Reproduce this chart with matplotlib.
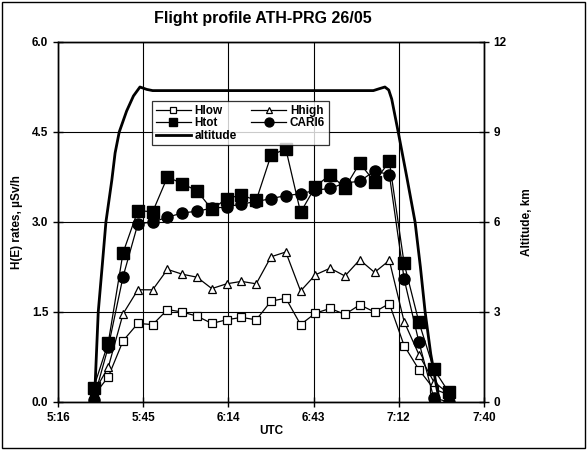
import matplotlib.pyplot as plt
from matplotlib.patches import Rectangle

plt.rcParams['font.family'] = ['Liberation Sans', 'DejaVu Sans']
plt.rcParams['font.weight'] = 'bold'

# measurement times (UTC)
times = ['5:28', '5:33', '5:38', '5:43', '5:48', '5:53', '5:58', '6:03', '6:08',
         '6:13', '6:18', '6:23', '6:28', '6:33', '6:38', '6:43', '6:48', '6:53',
         '6:58', '7:03', '7:08', '7:13', '7:18', '7:23', '7:28']

# H(E) rates, uSv/h
h_low = [0.10, 0.42, 1.02, 1.31, 1.29, 1.54, 1.50, 1.43, 1.31, 1.37, 1.41, 1.37, 1.68,
         1.73, 1.29, 1.48, 1.56, 1.46, 1.62, 1.50, 1.64, 0.94, 0.54, 0.22, 0.12]
h_high = [0.15, 0.58, 1.47, 1.87, 1.87, 2.21, 2.13, 2.08, 1.89, 1.97, 2.01, 1.97, 2.42,
          2.50, 1.85, 2.12, 2.23, 2.10, 2.37, 2.16, 2.36, 1.34, 0.79, 0.34, 0.14]
h_tot = [0.23, 0.99, 2.49, 3.19, 3.17, 3.75, 3.64, 3.52, 3.21, 3.39, 3.45, 3.36, 4.11,
         4.22, 3.16, 3.59, 3.79, 3.57, 3.98, 3.67, 4.01, 2.31, 1.33, 0.55, 0.17]
cari6 = [0.03, 0.92, 2.09, 2.97, 3.00, 3.08, 3.15, 3.18, 3.23, 3.25, 3.30, 3.34, 3.39,
         3.44, 3.47, 3.53, 3.56, 3.65, 3.68, 3.85, 3.79, 2.05, 1.00, 0.07, 0.00]

# flight altitude profile (minutes after midnight, km)
alt_time = [328.3, 329.6, 331.0, 332.2, 334.2, 335.3, 336.7, 339.2, 341.5, 343.7,
            346.0, 348.0, 422.6, 424.5, 426.5, 427.8, 428.8, 431.0, 433.9, 436.7,
            438.5, 440.1, 442.0, 443.8, 445.0]
alt_km = [0.0, 3.0, 4.6, 6.0, 7.4, 8.3, 9.0, 9.7, 10.2, 10.5,
          10.42, 10.38, 10.38, 10.44, 10.5, 10.4, 10.1, 9.0, 7.5, 6.0,
          4.5, 3.0, 1.6, 0.6, 0.0]

x_ticks = [316, 344.8, 373.6, 402.4, 431.2, 460]
x_labels = ['5:16', '5:45', '6:14', '6:43', '7:12', '7:40']


def to_min(s):
    h, m = s.split(':')
    return int(h) * 60 + int(m)


t = [to_min(s) for s in times]

fig = plt.figure(figsize=(5.87, 4.5), dpi=100)
fig.subplots_adjust(left=58 / 587, right=484 / 587, bottom=48 / 450, top=408 / 450)
ax1 = fig.add_subplot(111)
ax2 = ax1.twinx()

lw = 0.9
l_low, = ax1.plot(t, h_low, '-s', color='black', lw=lw, ms=6, mfc='white', mec='black', mew=0.9)
l_high, = ax1.plot(t, h_high, '-^', color='black', lw=lw, ms=6, mfc='white', mec='black', mew=0.9)
l_tot, = ax1.plot(t, h_tot, '-s', color='black', lw=lw, ms=8, mfc='black')
l_cari, = ax1.plot(t, cari6, '-o', color='black', lw=lw, ms=8, mfc='black')
l_alt, = ax2.plot(alt_time, alt_km, '-', color='black', lw=2)

ax1.set_xlim(316, 460)
ax1.set_ylim(0, 6)
ax2.set_ylim(0, 12)
ax1.set_xticks(x_ticks)
ax1.set_xticklabels(x_labels)
ax1.set_yticks([0, 1.5, 3.0, 4.5, 6.0])
ax1.set_yticklabels(['0.0', '1.5', '3.0', '4.5', '6.0'])
ax2.set_yticks([0, 3, 6, 9, 12])

ax1.grid(True, color='black', lw=0.8)
for a in (ax1, ax2):
    a.tick_params(direction='inout', length=7, width=1, labelsize=8.5)
    for sp in a.spines.values():
        sp.set_linewidth(1)

ax1.text(0.48, 1.045, 'Flight profile ATH-PRG 26/05', transform=ax1.transAxes,
         ha='center', va='bottom', fontsize=11.5, fontweight='bold')
ax1.set_xlabel('UTC', fontsize=8.5, fontweight='bold', labelpad=1)
ax1.set_ylabel('H(E) rates, µSv/h', fontsize=8.5, fontweight='bold', labelpad=6)
ax2.set_ylabel('Altitude, km', fontsize=8.5, fontweight='bold', labelpad=10)

leg = ax2.legend([l_low, l_tot, l_alt, l_high, l_cari],
                 ['Hlow', 'Htot', 'altitude', 'Hhigh', 'CARI6'],
                 ncol=2, loc='upper left', bbox_to_anchor=(0.207, 0.852),
                 fontsize=8.5, frameon=True, fancybox=False, edgecolor='black',
                 handlelength=3, handletextpad=0.3, labelspacing=0.05,
                 columnspacing=1.2, borderpad=0.3, markerscale=0.8)
leg.get_frame().set_linewidth(0.9)

# outer frame around the chart
fig.patches.append(Rectangle((0.004, 0.005), 0.992, 0.99, transform=fig.transFigure,
                             fill=False, edgecolor='black', lw=1))

fig.savefig('out.png', dpi=100)
